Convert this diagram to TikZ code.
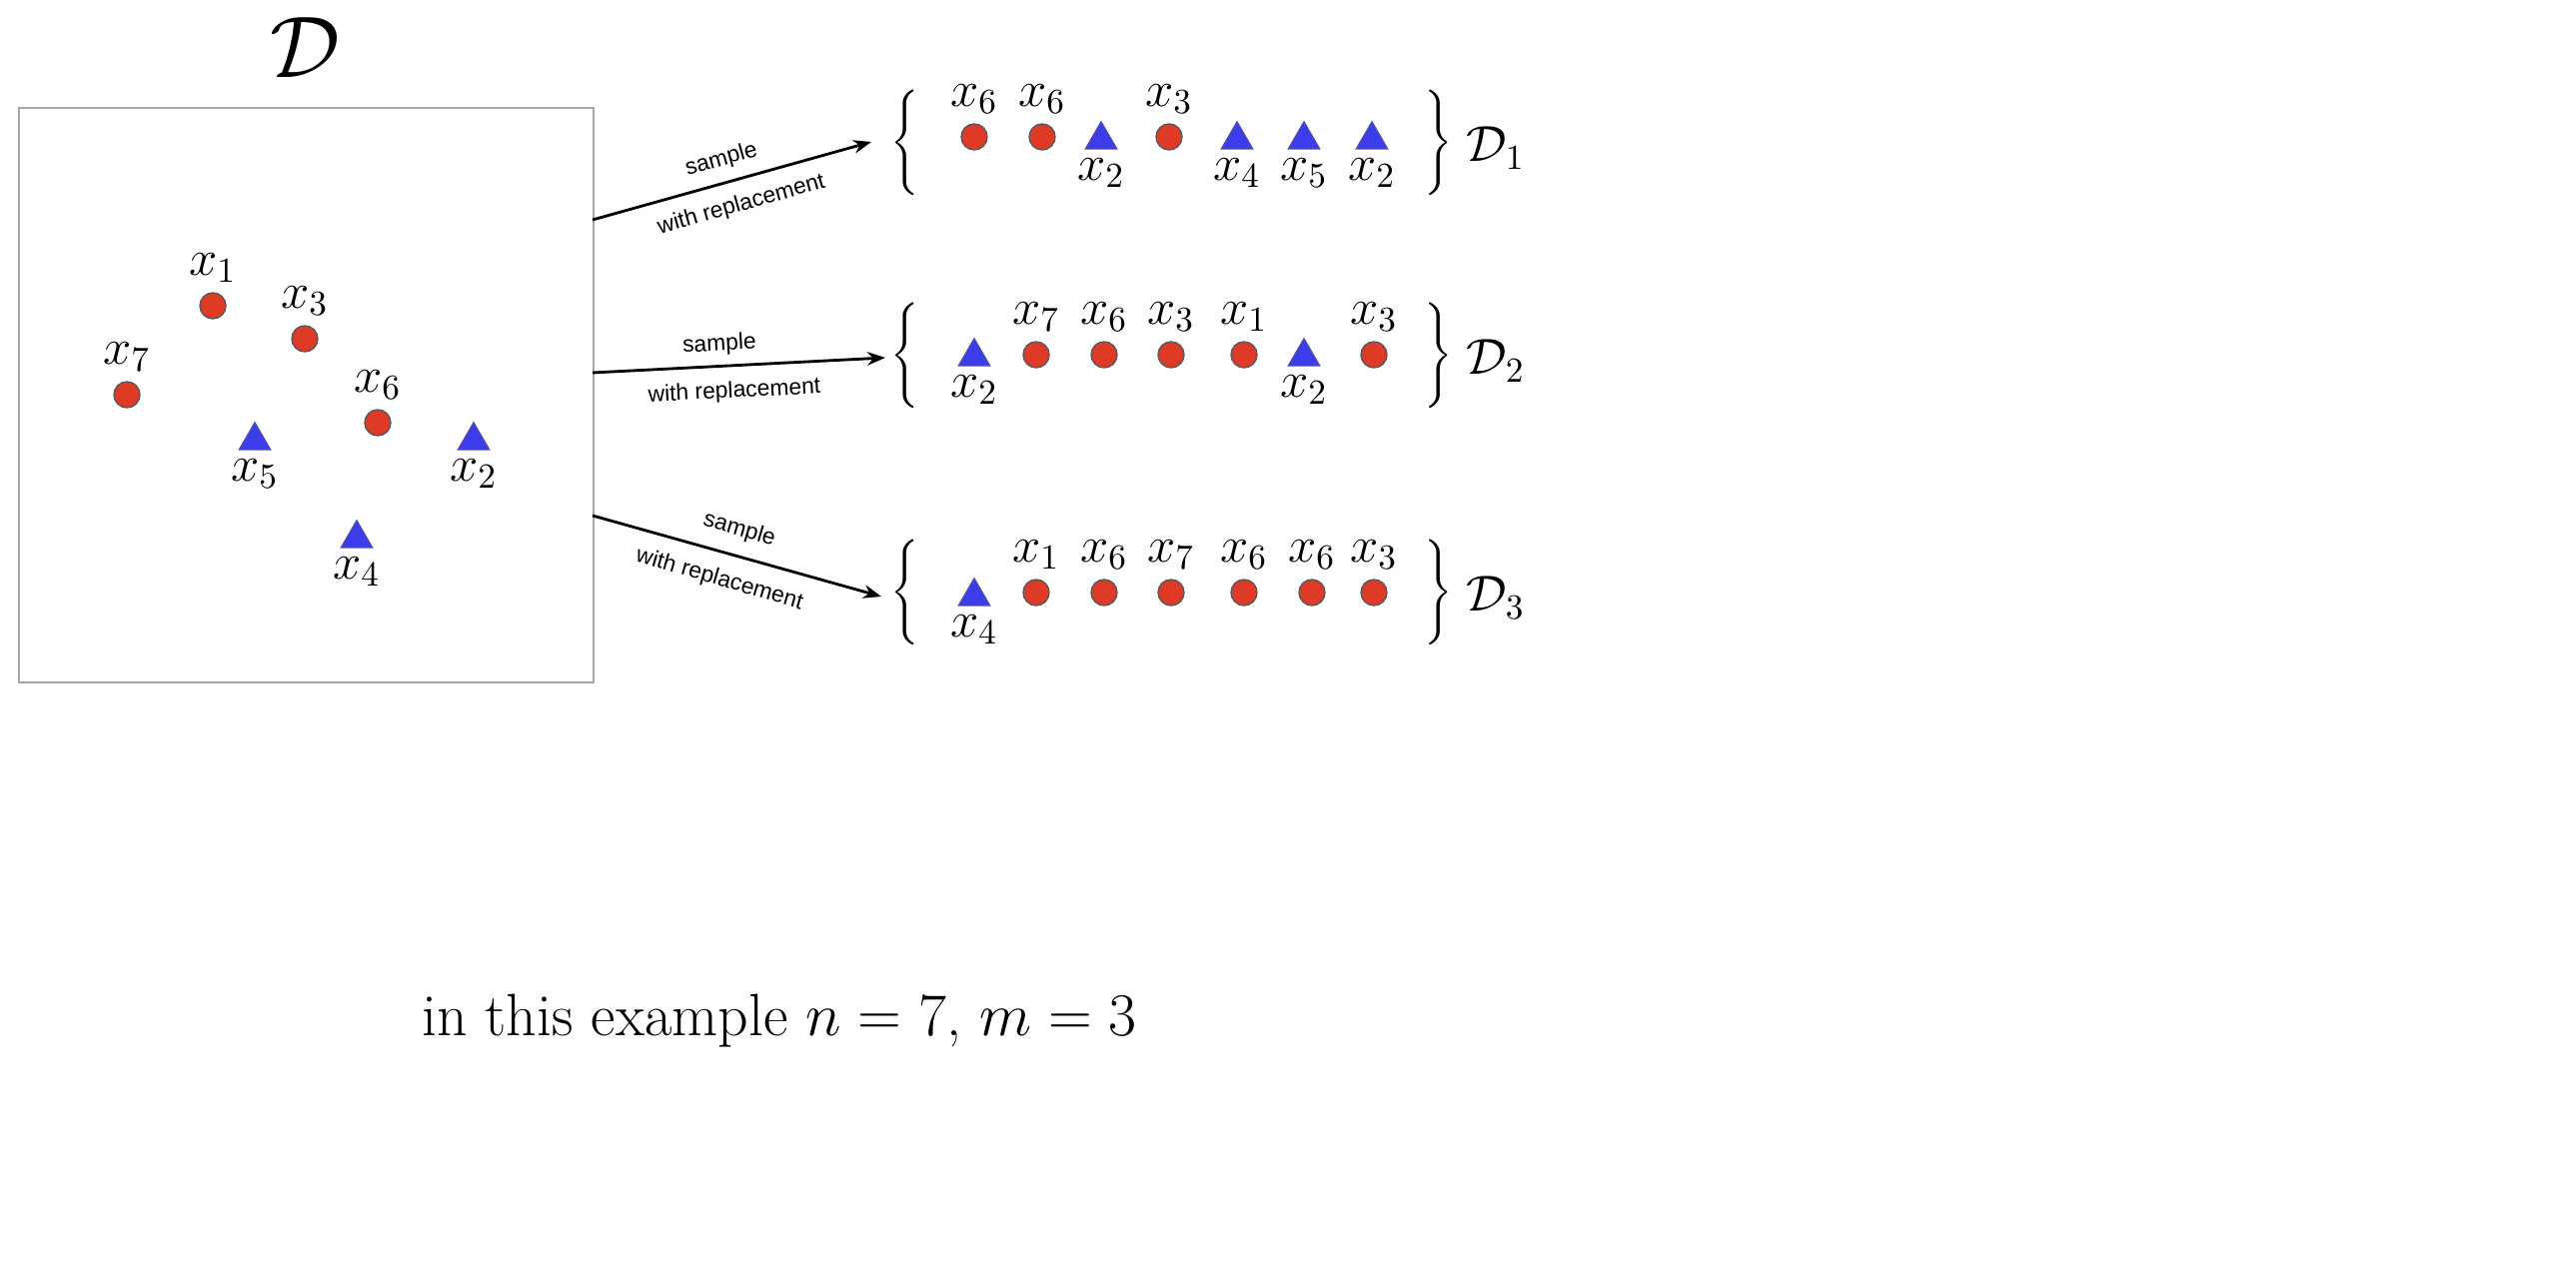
\documentclass[tikz,border=0pt]{standalone}
\usepackage{fontspec}
\usetikzlibrary{shapes.geometric,arrows.meta}
\newfontfamily\arial{Liberation Sans}
\begin{document}
\begin{tikzpicture}[x=0.01cm,y=-0.01cm,
  pt/.style={circle,draw=gray!70!black,fill={rgb,255:red,222;green,58;blue,38},minimum size=0.26cm,inner sep=0,line width=0.4pt},
  tri/.style={regular polygon,regular polygon sides=3,draw=gray!60!blue,fill={rgb,255:red,60;green,60;blue,235},minimum size=0.36cm,inner sep=0,line width=0.4pt},
  lab/.style={font=\Large,inner sep=0},
  arr/.style={-{Stealth[length=0.18cm]},line width=0.8pt},
  small/.style={font=\arial\fontsize{6.5}{8}\selectfont,inner sep=0},
  br/.style={font=\Large,inner sep=0}]
\useasboundingbox (0,0) rectangle (2578,1268);
\node[draw=gray!70,line width=0.6pt,minimum width=5.75cm,minimum height=5.75cm,anchor=north west] (box) at (18,107) {};
\node[font=\Huge,inner sep=0] (D) at (305,48) {$\mathcal{D}$};
\def\C(#1,#2,#3,#4){\node[pt] (c#4) at (#1,#2) {}; \node[lab] at (#1,#2-38) {$x_{#3}$};}
\def\T(#1,#2,#3,#4){\node[tri] (t#4) at (#1,#2) {}; \node[lab] at (#1,#2+33) {$x_{#3}$};}
\C(213,306,1,a) \C(305,339,3,b) \C(127,395,7,c) \C(378,423,6,d)
\T(255,441,5,e) \T(474,441,2,f) \T(357,539,4,g)
% set 1
\C(975,137,6,h) \C(1043,137,6,i) \T(1102,140,2,j) \C(1170,137,3,k) \T(1238,140,4,l) \T(1305,140,5,m) \T(1373,140,2,n)
% set 2
\T(975,357,2,o) \C(1037,355,7,p) \C(1105,355,6,q) \C(1172,355,3,r) \C(1245,355,1,s) \T(1305,357,2,u) \C(1375,355,3,v)
% set 3
\T(975,597,4,w) \C(1037,593,1,x) \C(1105,593,6,y) \C(1172,593,7,z) \C(1245,593,6,A) \C(1313,593,6,B) \C(1375,593,3,E)
\foreach \y/\k in {145/1,358/2,595/3}{
  \node[br] (bl\k) at (908,\y) {$\left\{\rule[-0.45cm]{0pt}{0.9cm}\right.$};
  \node[br] (brr\k) at (1438,\y) {$\left.\rule[-0.45cm]{0pt}{0.9cm}\right\}$};
  \node[lab] (dl\k) at (1497,\y+3) {$\mathcal{D}_{\k}$};
}
\coordinate (s1) at (593,220); \coordinate (e1) at (872,142);
\coordinate (s2) at (593,373); \coordinate (e2) at (886,358);
\coordinate (s3) at (593,516); \coordinate (e3) at (882,597);
\draw[arr] (s1) -- (e1);
\draw[arr] (s2) -- (e2);
\draw[arr] (s3) -- (e3);
\node[small,rotate=15.7] at (722,160) {sample};
\node[small,rotate=15.7] at (742,205) {with replacement};
\node[small,rotate=3] at (720,345) {sample};
\node[small,rotate=3] at (735,392) {with replacement};
\node[small,rotate=-16.3] at (740,530) {sample};
\node[small,rotate=-16.3] at (720,580) {with replacement};
\node[font=\fontsize{17}{20}\selectfont] (cap) at (780,1022) {in this example $n=7$, $m=3$};
\end{tikzpicture}
\end{document}
